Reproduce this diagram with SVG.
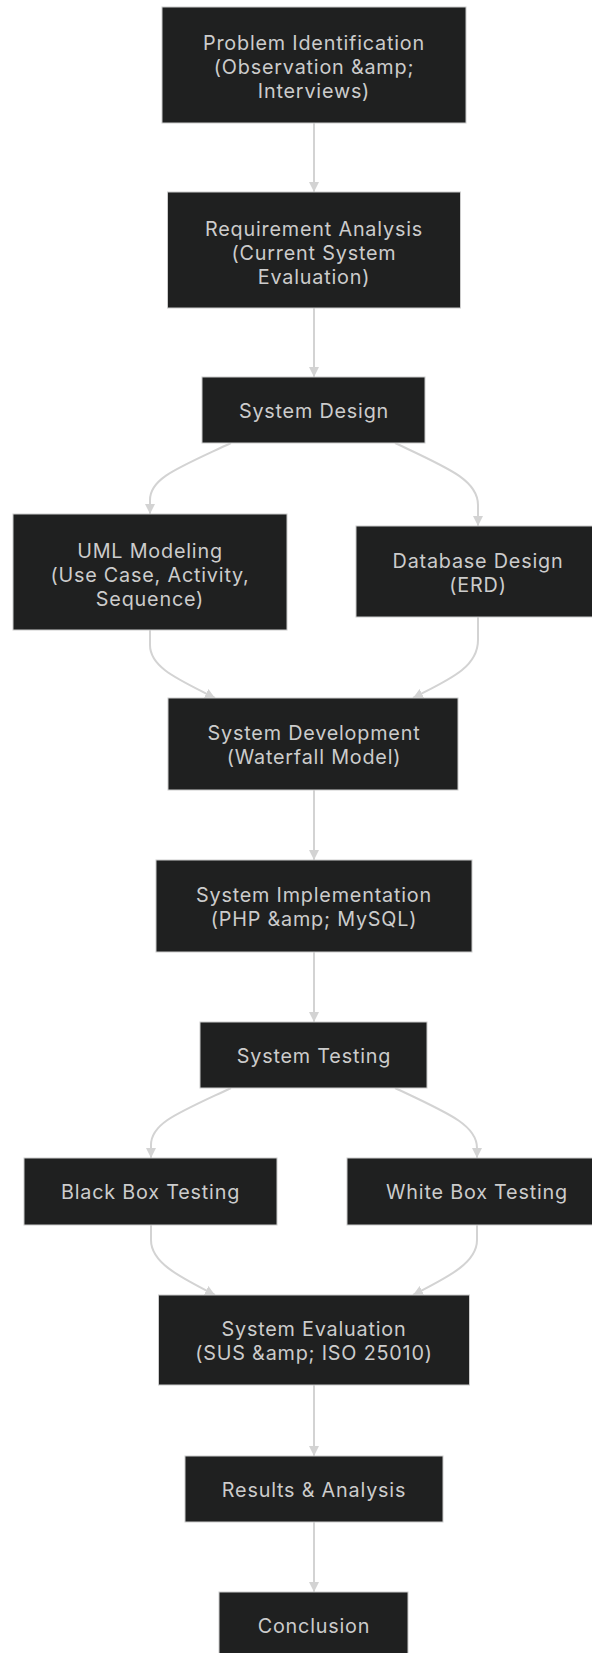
<svg xmlns="http://www.w3.org/2000/svg" width="592" height="1653" viewBox="0 0 592 1653">
<style>
.node rect{fill:#1f2020;stroke:#cccccc;stroke-width:1}
.node text{font-family:Inter,"Open Sans","DejaVu Sans",sans-serif;font-size:19.8px;letter-spacing:0.8px;fill:#cccccc;text-anchor:middle}
.edge{fill:none;stroke:#d3d3d3;stroke-width:2}
</style>
<defs>
<marker id="arrow" viewBox="0 0 10 10" refX="10" refY="5" markerWidth="10" markerHeight="10" markerUnits="userSpaceOnUse" orient="auto">
<path d="M0,0 L10,5 L0,10 z" fill="#d3d3d3"/>
</marker>
</defs>
<rect width="592" height="1653" fill="#ffffff"/>
<g id="edges">
<path class="edge" d="M314,123 L314,192" marker-end="url(#arrow)"/>
<path class="edge" d="M314,308 L314,377" marker-end="url(#arrow)"/>
<path class="edge" d="M231,443 C178,468 150,478 150,500 L150,514" marker-end="url(#arrow)"/>
<path class="edge" d="M395,443 C448,468 478,480 478,505 L478,526" marker-end="url(#arrow)"/>
<path class="edge" d="M150,630 L150,645 C150,668 180,680 215,698" marker-end="url(#arrow)"/>
<path class="edge" d="M478,617 L478,640 C478,668 448,680 413,698" marker-end="url(#arrow)"/>
<path class="edge" d="M314,790 L314,860" marker-end="url(#arrow)"/>
<path class="edge" d="M314,952 L314,1022" marker-end="url(#arrow)"/>
<path class="edge" d="M231,1088 C178,1113 151,1123 151,1145 L151,1158" marker-end="url(#arrow)"/>
<path class="edge" d="M395,1088 C448,1113 477,1125 477,1148 L477,1158" marker-end="url(#arrow)"/>
<path class="edge" d="M151,1225 L151,1240 C151,1263 180,1277 215,1295" marker-end="url(#arrow)"/>
<path class="edge" d="M477,1225 L477,1240 C477,1263 448,1277 413,1295" marker-end="url(#arrow)"/>
<path class="edge" d="M314,1385 L314,1456" marker-end="url(#arrow)"/>
<path class="edge" d="M314,1522 L314,1592" marker-end="url(#arrow)"/>
</g>
<g id="n1" class="node"><rect x="162" y="7" width="304" height="116"/>
<text x="314" y="50">Problem Identification<tspan x="314" dy="24">(Observation &amp;amp;</tspan><tspan x="314" dy="24">Interviews)</tspan></text></g>
<g id="n2" class="node"><rect x="167.5" y="192" width="293" height="116"/>
<text x="314" y="236">Requirement Analysis<tspan x="314" dy="24">(Current System</tspan><tspan x="314" dy="24">Evaluation)</tspan></text></g>
<g id="n3" class="node"><rect x="202" y="377" width="223" height="66"/>
<text x="314" y="418">System Design</text></g>
<g id="n4" class="node"><rect x="13" y="514" width="274" height="116"/>
<text x="150" y="558">UML Modeling<tspan x="150" dy="24">(Use Case, Activity,</tspan><tspan x="150" dy="24">Sequence)</tspan></text></g>
<g id="n5" class="node"><rect x="356" y="526" width="244" height="91"/>
<text x="478" y="568">Database Design<tspan x="478" dy="24">(ERD)</tspan></text></g>
<g id="n6" class="node"><rect x="168" y="698" width="290" height="92"/>
<text x="314" y="740">System Development<tspan x="314" dy="24">(Waterfall Model)</tspan></text></g>
<g id="n7" class="node"><rect x="156" y="860" width="316" height="92"/>
<text x="314" y="902">System Implementation<tspan x="314" dy="24">(PHP &amp;amp; MySQL)</tspan></text></g>
<g id="n8" class="node"><rect x="200" y="1022" width="227" height="66"/>
<text x="314" y="1063">System Testing</text></g>
<g id="n9" class="node"><rect x="24" y="1158" width="253" height="67"/>
<text x="150.5" y="1199">Black Box Testing</text></g>
<g id="n10" class="node"><rect x="347" y="1158" width="260" height="67"/>
<text x="477" y="1199">White Box Testing</text></g>
<g id="n11" class="node"><rect x="158.5" y="1295" width="311" height="90"/>
<text x="314" y="1336">System Evaluation<tspan x="314" dy="24">(SUS &amp;amp; ISO 25010)</tspan></text></g>
<g id="n12" class="node"><rect x="185" y="1456" width="258" height="66"/>
<text x="314" y="1497">Results &amp; Analysis</text></g>
<g id="n13" class="node"><rect x="219" y="1592" width="189" height="66"/>
<text x="314" y="1633">Conclusion</text></g>
</svg>
